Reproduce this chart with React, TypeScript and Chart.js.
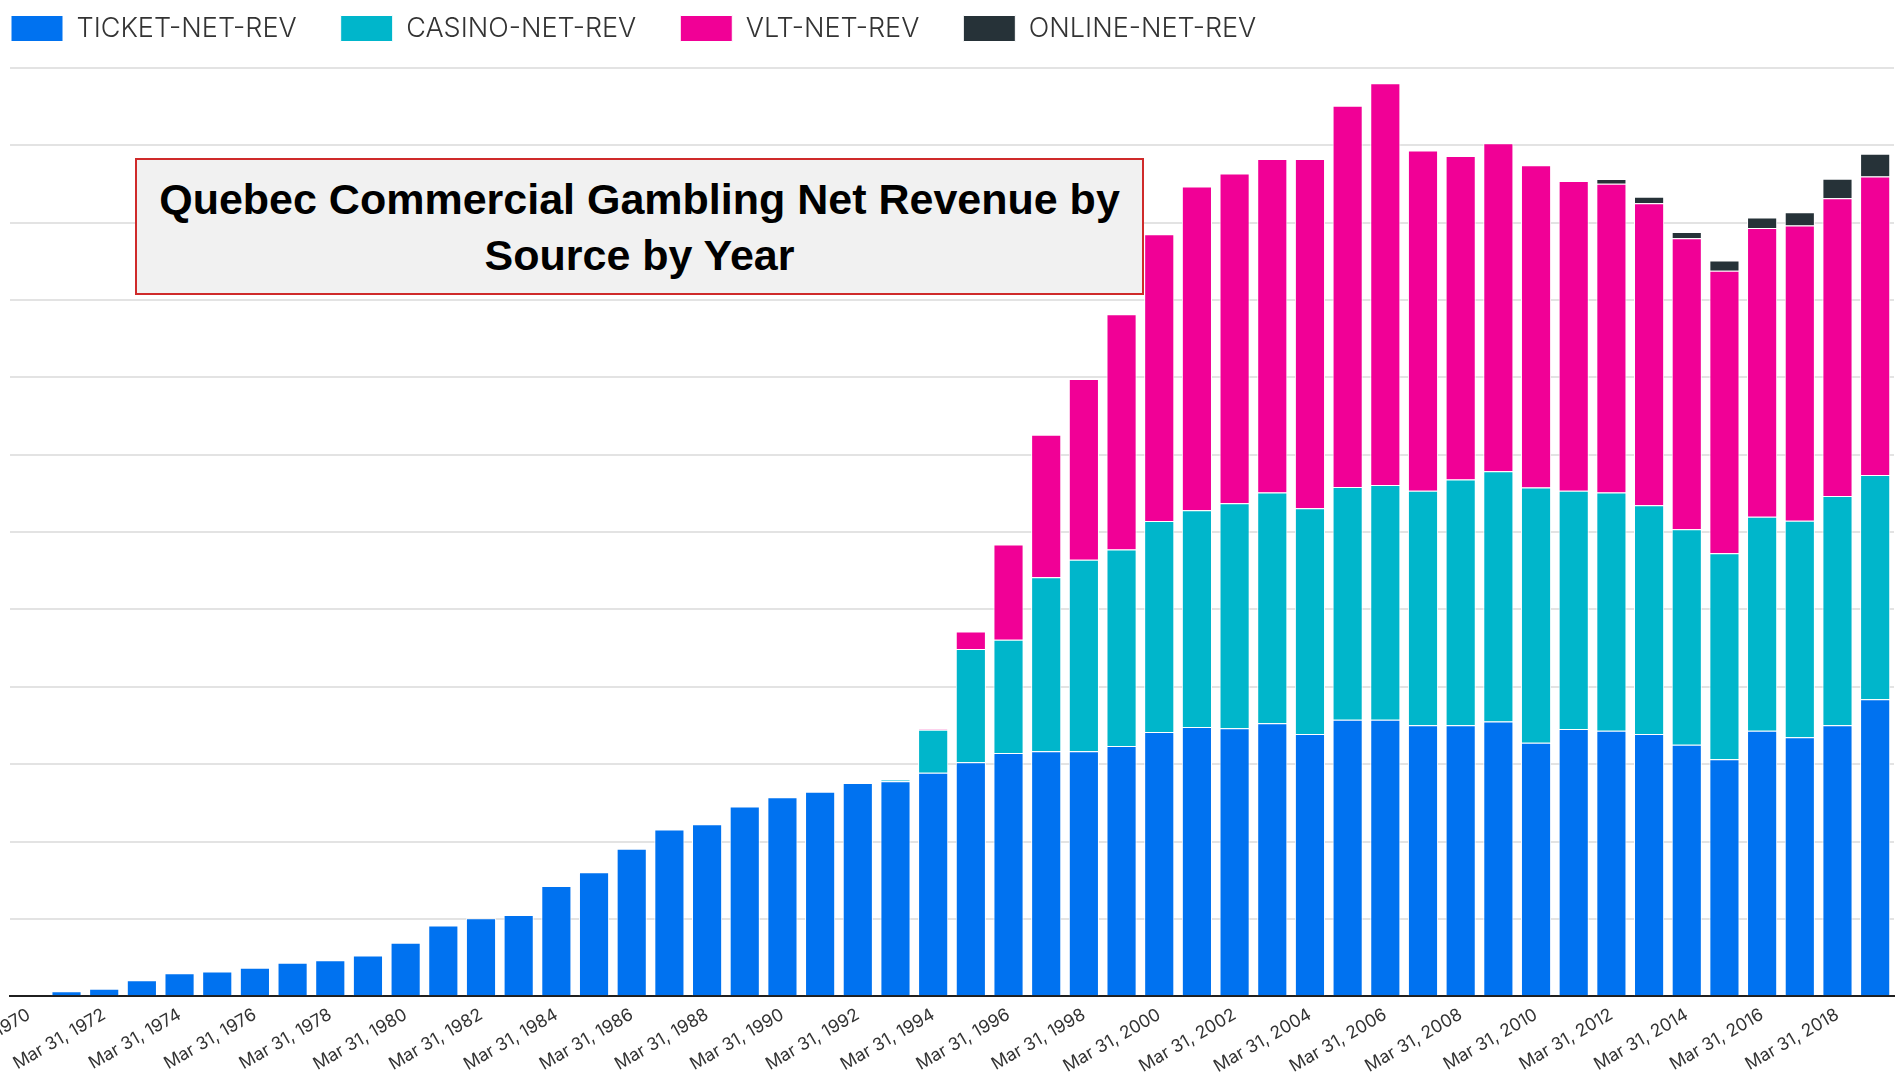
import React, { useEffect, useRef } from 'react';
import { Chart, registerables } from 'chart.js';

Chart.register(...registerables);

const yearLabels = [
  'Mar 31, 1970', 'Mar 31, 1971', 'Mar 31, 1972', 'Mar 31, 1973', 'Mar 31, 1974',
  'Mar 31, 1975', 'Mar 31, 1976', 'Mar 31, 1977', 'Mar 31, 1978', 'Mar 31, 1979',
  'Mar 31, 1980', 'Mar 31, 1981', 'Mar 31, 1982', 'Mar 31, 1983', 'Mar 31, 1984',
  'Mar 31, 1985', 'Mar 31, 1986', 'Mar 31, 1987', 'Mar 31, 1988', 'Mar 31, 1989',
  'Mar 31, 1990', 'Mar 31, 1991', 'Mar 31, 1992', 'Mar 31, 1993', 'Mar 31, 1994',
  'Mar 31, 1995', 'Mar 31, 1996', 'Mar 31, 1997', 'Mar 31, 1998', 'Mar 31, 1999',
  'Mar 31, 2000', 'Mar 31, 2001', 'Mar 31, 2002', 'Mar 31, 2003', 'Mar 31, 2004',
  'Mar 31, 2005', 'Mar 31, 2006', 'Mar 31, 2007', 'Mar 31, 2008', 'Mar 31, 2009',
  'Mar 31, 2010', 'Mar 31, 2011', 'Mar 31, 2012', 'Mar 31, 2013', 'Mar 31, 2014',
  'Mar 31, 2015', 'Mar 31, 2016', 'Mar 31, 2017', 'Mar 31, 2018', 'Mar 31, 2019',
];

// values in millions of dollars
const ticketNetRev = [
  null, 16, 24, 52, 74, 80, 92, 108, 116, 132,
  173, 229, 252, 263, 356, 401, 477, 539, 556, 613,
  643, 661, 689, 695, 722, 756, 786, 792, 792, 809,
  854, 870, 866, 882, 848, 894, 894, 876, 876, 888,
  819, 864, 858, 848, 813, 766, 858, 837, 876, 960,
];

const casinoNetRev = [
  null, null, null, null, null, null, null, null, null, null,
  null, null, null, null, null, null, null, null, null, null,
  null, null, null, 5, 139, 366, 366, 562, 619, 635,
  682, 701, 727, 746, 729, 752, 758, 758, 794, 809,
  825, 770, 770, 739, 696, 666, 692, 700, 741, 725,
];

const vltNetRev = [
  null, null, null, null, null, null, null, null, null, null,
  null, null, null, null, null, null, null, null, null, null,
  null, null, null, null, 3, 57, 308, 461, 584, 760,
  927, 1046, 1066, 1078, 1129, 1232, 1299, 1099, 1046, 1060,
  1042, 1001, 998, 976, 941, 913, 933, 954, 962, 964,
];

const onlineNetRev = [
  null, null, null, null, null, null, null, null, null, null,
  null, null, null, null, null, null, null, null, null, null,
  null, null, null, null, null, null, null, null, null, null,
  null, null, null, null, null, null, null, null, null, null,
  null, null, 15, 21, 20, 33, 34, 43, 63, 74,
];

const seriesNames = ['TICKET-NET-REV', 'CASINO-NET-REV', 'VLT-NET-REV', 'ONLINE-NET-REV'];
const seriesColors = ['#0072F0', '#00B6CB', '#F10096', '#263238'];

const legendSpacer = {
  id: 'legendSpacer',
  beforeLayout(chart: any) {
    const lg = chart.legend;
    if (lg && !lg._spaced) {
      const orig = lg.fit.bind(lg);
      lg.fit = function () {
        orig();
        this.height += 16;
      };
      lg._spaced = true;
    }
  },
};

export default function App() {
  const ref = useRef<HTMLCanvasElement>(null);

  useEffect(() => {
    const canvas = ref.current;
    if (!canvas) return;
    const baseGen = Chart.defaults.plugins.legend.labels.generateLabels;
    const seriesData = [ticketNetRev, casinoNetRev, vltNetRev, onlineNetRev];
    const chart = new Chart(canvas, {
      type: 'bar',
      data: {
        labels: yearLabels,
        datasets: seriesNames.map((name, i) => ({
          label: name,
          data: seriesData[i] as any,
          backgroundColor: seriesColors[i],
          borderColor: '#ffffff',
          borderWidth: 1,
          categoryPercentage: 0.8,
          barPercentage: 1,
        })),
      },
      options: {
        animation: false,
        responsive: true,
        maintainAspectRatio: false,
        layout: { padding: { left: 0, right: 3, top: 0, bottom: 0 } },
        plugins: {
          legend: {
            position: 'top',
            align: 'start',
            labels: {
              boxWidth: 52,
              boxHeight: 26,
              padding: 17,
              color: '#333333',
              font: { family: 'Inter, "Open Sans", sans-serif', size: 27, weight: '300' as any },
              generateLabels: (c: any) =>
                baseGen(c).map((it: any) => ({ ...it, text: it.text + '\u2003' })),
            },
          },
          tooltip: { enabled: false },
          title: { display: false },
        },
        scales: {
          x: {
            stacked: true,
            grid: { display: false, drawTicks: false },
            border: { display: true, color: '#1f1f1f', width: 2 },
            ticks: {
              autoSkip: false,
              minRotation: 30,
              maxRotation: 30,
              padding: 8,
              color: '#333333',
              font: { family: 'Inter, "Open Sans", sans-serif', size: 17.5, weight: '400' as any },
              callback: (_v: any, i: number) => (i % 2 === 0 ? yearLabels[i] : ''),
            },
            afterFit: (s: any) => {
              s.paddingLeft = 0;
              s.paddingRight = 0;
            },
          },
          y: {
            stacked: true,
            min: 0,
            max: 3000,
            ticks: { display: false, stepSize: 250 },
            grid: { color: '#e3e3e3', lineWidth: 2, drawTicks: false },
            border: { display: false },
            afterFit: (s: any) => {
              s.width = 16;
            },
          },
        },
      },
      plugins: [legendSpacer],
    });
    return () => chart.destroy();
  }, []);

  return (
    <div style={{ position: 'fixed', left: 0, top: 0, width: 1897, height: 1081, background: '#ffffff', overflow: 'hidden' }}>
      <div style={{ position: 'absolute', left: -6, top: -2, width: 1903, height: 1087 }}>
        <canvas ref={ref} />
      </div>
      <div
        style={{
          position: 'absolute',
          left: 135,
          top: 158,
          width: 1009,
          height: 137,
          boxSizing: 'border-box',
          border: '2px solid #cf2a2a',
          background: '#f1f1f1',
          display: 'flex',
          alignItems: 'center',
          justifyContent: 'center',
          textAlign: 'center',
          fontFamily: '"Liberation Sans", Arial, sans-serif',
          fontWeight: 700,
          fontSize: 43,
          lineHeight: '56px',
          color: '#000000',
        }}
      >
        <div>
          Quebec Commercial Gambling Net Revenue by
          <br />
          Source by Year
        </div>
      </div>
    </div>
  );
}
